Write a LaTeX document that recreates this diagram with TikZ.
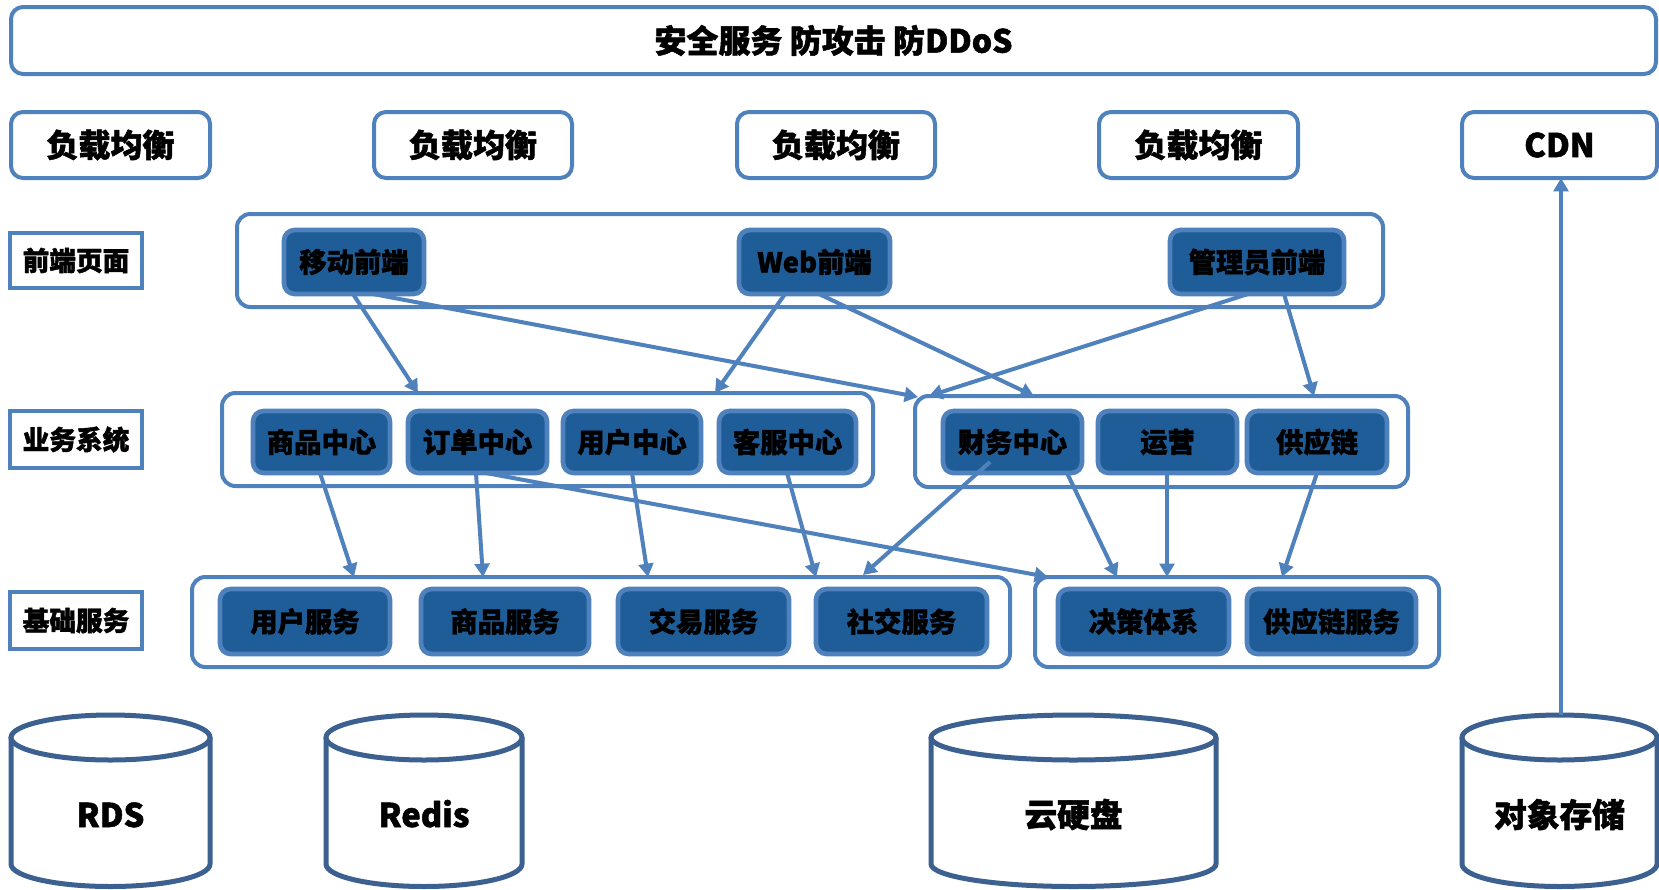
\documentclass[tikz,border=0pt]{standalone}
\usepackage{fontspec}
\newfontfamily\cjk{Noto Sans CJK SC}[BoldFeatures={FakeBold=1.5}]
\usetikzlibrary{arrows.meta,calc}
\definecolor{bord}{RGB}{79,129,189}
\definecolor{fillb}{RGB}{31,93,153}
\definecolor{cylc}{RGB}{60,96,143}
\newcommand\bx[7]{\node[#1, minimum width={(#5-#3)*0.75pt}, minimum height={(#6-#4)*0.75pt}] (#2) at ({(#3+#5)/2},{(#4+#6)/2}) {#7};}
\newcommand\cyl[5]{%
  \draw[cylst] (#2,737.5) -- (#2,864) arc[start angle=180,end angle=360,x radius={(#3-#2)/2*0.75pt},y radius=16.875pt] -- (#3,737.5);
  \draw[cylst] ({(#2+#3)/2},737.5) ellipse [x radius={(#3-#2)/2*0.75pt},y radius=16.875pt];
  \node[#5, anchor=base] (#1) at ({(#2+#3)/2},827) {#4};}
\begin{document}
\begin{tikzpicture}[x=0.75pt,y=-0.75pt,
  every node/.style={inner sep=0pt, outer sep=0pt},
  outer/.style={draw=bord, line width=3pt, rounded corners=9pt, fill=white},
  big/.style={outer, font=\cjk\bfseries\fontsize{24}{28}\selectfont},
  bigl/.style={outer, font=\cjk\bfseries\fontsize{24.5}{30}\selectfont},
  lab/.style={draw=bord, line width=3pt, fill=white, font=\cjk\bfseries\fontsize{20}{24}\selectfont},
  grp/.style={draw=bord, line width=3pt, rounded corners=10pt, fill=white},
  inner/.style={draw=bord, line width=3.5pt, rounded corners=8pt, fill=fillb, text=black, font=\cjk\bfseries\fontsize{20.5}{24}\selectfont},
  cylst/.style={draw=cylc, line width=3.75pt},
  cyltxt/.style={font=\cjk\bfseries\fontsize{24.5}{28}\selectfont},
  cyltxtl/.style={font=\cjk\bfseries\fontsize{24.5}{30}\selectfont},
  arr/.style={draw=bord, line width=3pt, -{Triangle[length=10pt,width=11pt]}}]
\useasboundingbox[fill=white] (0,0) rectangle (1659,889);
% top
\bx{big}{sec}{11}{7}{1656}{74}{安全服务 防攻击 防DDoS}
% load balancers
\bx{big}{lb1}{11}{112}{210}{178}{负载均衡}
\bx{big}{lb2}{374}{112}{572}{178}{负载均衡}
\bx{big}{lb3}{737}{112}{935}{178}{负载均衡}
\bx{big}{lb4}{1099}{112}{1298}{178}{负载均衡}
\bx{bigl}{cdn}{1462}{112}{1657}{178}{CDN}
% labels
\bx{lab}{lfront}{10}{233}{142}{288}{前端页面}
\bx{lab}{lbus}{10}{411}{142}{468}{业务系统}
\bx{lab}{lbase}{10}{592}{142}{649}{基础服务}
% groups
\bx{grp}{front}{237}{214}{1383}{307}{}
\bx{grp}{bus1}{222}{393}{873}{486}{}
\bx{grp}{bus2}{915}{396}{1408}{487}{}
\bx{grp}{base1}{192}{577}{1010}{667}{}
\bx{grp}{base2}{1035}{577}{1439}{667}{}
% front
\bx{inner}{mf}{284}{230}{424}{294}{移动前端}
\bx{inner}{web}{739}{230}{890}{294}{Web前端}
\bx{inner}{adm}{1170}{230}{1344}{294}{管理员前端}
% business
\bx{inner}{sp}{253}{411}{390}{473}{商品中心}
\bx{inner}{od}{408}{411}{547}{473}{订单中心}
\bx{inner}{uc}{563}{411}{701}{473}{用户中心}
\bx{inner}{kf}{719}{411}{856}{473}{客服中心}
\bx{inner}{cw}{943}{411}{1082}{473}{财务中心}
\bx{inner}{yy}{1098}{411}{1237}{473}{运营}
\bx{inner}{gy}{1247}{411}{1387}{473}{供应链}
% base
\bx{inner}{us}{220}{589}{390}{654}{用户服务}
\bx{inner}{ps}{421}{589}{589}{654}{商品服务}
\bx{inner}{ts}{618}{589}{789}{654}{交易服务}
\bx{inner}{ss}{816}{589}{987}{654}{社交服务}
\bx{inner}{jc}{1058}{589}{1229}{654}{决策体系}
\bx{inner}{gs}{1247}{589}{1416}{654}{供应链服务}
% storage
\cyl{rds}{11}{210}{RDS}{cyltxtl}
\cyl{redis}{326}{522}{Redis}{cyltxtl}
\cyl{disk}{931}{1216}{云硬盘}{cyltxt}
\cyl{obj}{1462}{1657}{对象存储}{cyltxt}
\coordinate (objtop) at (1561,715);
% arrows
\draw[arr] ($(mf.south west)+(69,0)$) -- ($(bus1.north west)+(196,0)$);
\draw[arr] ($(mf.south west)+(89,0)$) -- ($(bus2.north west)+(3,1)$);
\draw[arr] ($(web.south west)+(46,0)$) -- ($(bus1.north west)+(493,0)$);
\draw[arr] ($(web.south west)+(80,0)$) -- ($(bus2.north west)+(119,0)$);
\draw[arr] ($(adm.south west)+(78,0)$) -- ($(bus2.north west)+(14,0)$);
\draw[arr] ($(adm.south west)+(114,0)$) -- ($(bus2.north west)+(399,0)$);
\draw[arr] ($(sp.south west)+(67,0)$) -- ($(base1.north west)+(162,0)$);
\draw[arr] ($(od.south west)+(68,0)$) -- ($(base1.north west)+(291,0)$);
\draw[arr] ($(od.south west)+(78,0)$) -- ($(base2.north west)+(13,0)$);
\draw[arr] ($(uc.south west)+(69,0)$) -- ($(base1.north west)+(456,0)$);
\draw[arr] ($(kf.south west)+(68,0)$) -- ($(base1.north west)+(624,0)$);
\draw[arr] ($(cw.south west)+(47,-11)$) -- ($(base1.north west)+(671,-2)$);
\draw[arr] ($(cw.south west)+(124,0)$) -- ($(base2.north west)+(82,0)$);
\draw[arr] ($(yy.south west)+(69,0)$) -- ($(base2.north west)+(132,0)$);
\draw[arr] ($(gy.south west)+(70,0)$) -- ($(base2.north west)+(247,0)$);
\draw[arr] (objtop) -- (objtop |- cdn.south);
\end{tikzpicture}
\end{document}
